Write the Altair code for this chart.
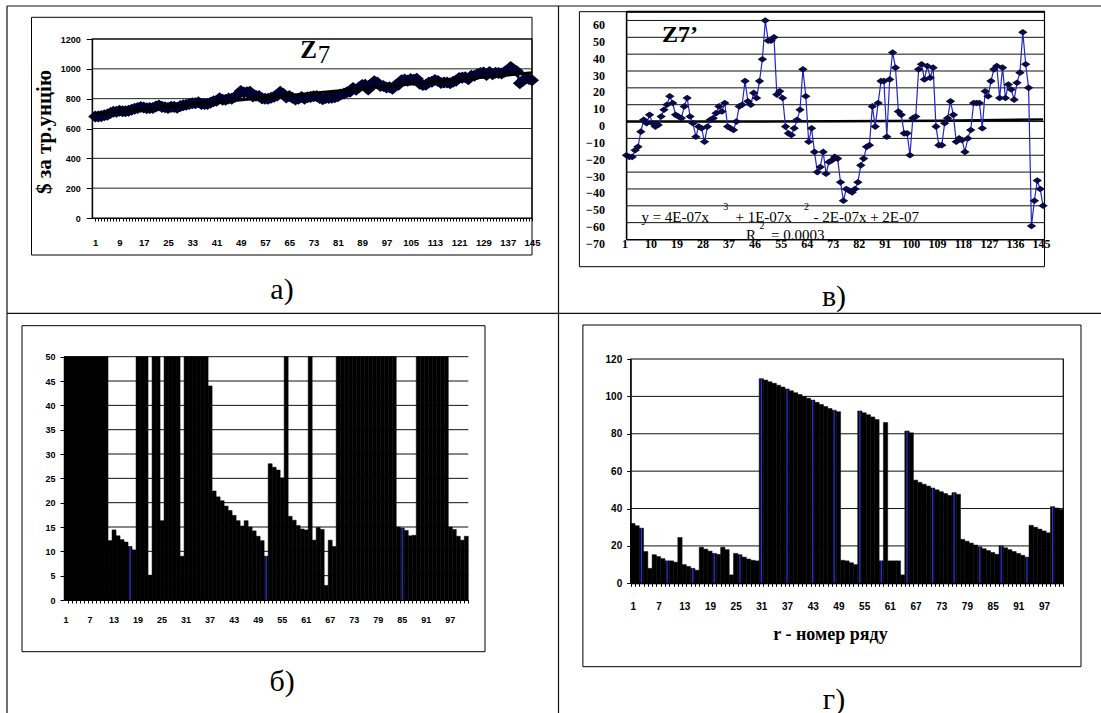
import altair as alt
import pandas as pd

W, H = 1101, 713

# ---------------- data ----------------
# panel a) Z7, $ per troy ounce, points 1..145
z7 = [680, 681, 683, 689, 693, 704, 712, 712, 719, 716,
      716, 719, 726, 732, 737, 744, 741, 736, 737, 738,
      747, 754, 745, 743, 737, 745, 745, 739, 750, 756,
      759, 764, 770, 769, 776, 764, 764, 765, 772, 783,
      786, 802, 792, 792, 801, 800, 811, 826, 851, 841,
      843, 847, 815, 819, 817, 802, 799, 800, 806, 813,
      821, 847, 833, 808, 818, 806, 795, 800, 811, 800,
      809, 812, 816, 817, 805, 796, 804, 805, 806, 810,
      816, 828, 834, 843, 846, 871, 860, 876, 891, 893,
      862, 898, 916, 909, 885, 885, 875, 877, 866, 890,
      893, 923, 928, 921, 931, 926, 933, 900, 891, 893,
      908, 913, 925, 919, 905, 909, 909, 904, 914, 921,
      939, 941, 943, 930, 954, 953, 963, 972, 976, 959,
      979, 963, 973, 972, 968, 980, 987, 1013, 996, 984,
      904, 921, 935, 932, 924]
z7_trend_x = [1, 145]
z7_trend_y = [700, 974]
a_yticks = [0, 200, 400, 600, 800, 1000, 1200]

# panel в) Z7'
z7d = [-20, -21, -21, -17, -15, -6, 1, -1, 4, -1,
       -3, -2, 3, 7, 10, 15, 11, 4, 3, 2,
       9, 14, 3, -1, -9, -3, -4, -12, -3, 1,
       2, 5, 9, 6, 11, -3, -4, -5, 0, 9,
       10, 24, 12, 10, 17, 14, 24, 37, 60, 48,
       48, 50, 16, 18, 14, -3, -7, -8, -4, 1,
       7, 31, 15, -12, -4, -18, -30, -27, -18, -31,
       -24, -23, -21, -22, -36, -47, -40, -41, -42, -40,
       -36, -26, -22, -15, -14, 9, -3, 11, 24, 24,
       -9, 25, 41, 32, 6, 4, -7, -7, -20, 2,
       3, 31, 34, 25, 33, 26, 32, -3, -14, -14,
       -1, 2, 12, 4, -12, -10, -11, -18, -10, -5,
       11, 11, 11, -4, 18, 15, 24, 31, 33, 14,
       32, 14, 22, 19, 13, 23, 29, 53, 34, 20,
       -62, -47, -35, -40, -50]
z7d_trend_x = [1, 37, 73, 109, 145]
z7d_trend_y = [0.0, 0.02, 0.16, 0.52, 1.22]
v_yticks = [-70, -60, -50, -40, -30, -20, -10, 0, 10, 20, 30, 40, 50, 60]
v_xticks = [1, 10, 19, 28, 37, 46, 55, 64, 73, 82, 91, 100, 109, 118, 127, 136, 145]

# panel б) bars (values above 50 run off the top of the axis)
b_vals = [60, 60, 60, 60, 60, 60, 60, 60, 60, 60, 60,
          12.2, 14.4, 13.2, 12.4, 11.9, 11.0, 10.3,
          60, 60, 60, 5.1, 60, 60, 16.3, 60, 60, 60, 60, 9.0,
          60, 60, 60, 60, 60, 60, 44,
          22.4, 21.2, 20.4, 19.3, 18.4, 17.4, 16.3, 15.2, 16.3, 15.0, 14.2, 13.1, 12.2,
          9.0, 28.0, 27.3, 26.7, 25.1, 60,
          17.2, 16.4, 15.3, 14.6, 14.4, 60,
          12.3, 14.9, 14.5, 3.0, 12.3, 11.0,
          60, 60, 60, 60, 60, 60, 60, 60, 60, 60, 60, 60, 60, 60, 60,
          15.0, 14.8, 14.3, 13.2, 13.3,
          60, 60, 60, 60, 60, 60, 60, 60,
          15.0, 14.5, 13.1, 12.3, 13.1]
b_blue = [17, 51, 85]
b_yticks = [0, 5, 10, 15, 20, 25, 30, 35, 40, 45, 50]
b_xlabels = [1, 7, 13, 19, 25, 31, 37, 43, 49, 55, 61, 67, 73, 79, 85, 91, 97]

# panel г) bars
g_vals = [32, 30.8, 29.5, 17, 8, 15.3, 14.3, 13.2, 12, 12,
          11.3, 24.5, 10, 9, 8, 7, 19.3, 18.3, 17.2, 16,
          15.5, 19.3, 18, 4.5, 16, 15.3, 14, 13, 12.3, 12,
          109.5, 108.7, 107.8, 107, 106, 105, 104, 103, 102, 101,
          100, 99, 98, 96.8, 95.7, 94.6, 93.5, 92.6, 91.8,
          12.3, 12, 11, 10,
          92.2, 91.2, 90.2, 89, 87.6,
          12, 86, 12, 12, 12, 4.5,
          81.5, 80.5,
          55.2, 54, 53, 52, 51, 50, 49, 48, 47, 48.5, 47.6,
          23.5, 22.5, 21.5, 20.5, 19.5, 18.5, 17.5, 16.5, 15.5,
          20, 19, 18, 17, 16, 15, 14,
          31, 30, 29, 28, 27, 41, 40.3, 39.5]
g_blue = [3, 9, 15, 20, 26, 31, 37, 43, 48, 54, 59, 65, 71, 76, 82, 87, 93, 99]
g_yticks = [0, 20, 40, 60, 80, 100, 120]

# ---------------- helpers ----------------
one = pd.DataFrame({"k": [0]})
SERIF = "Liberation Serif"
SANS = "Liberation Sans"


def hline(y, x1, x2, color="#111", w=1.2):
    return alt.Chart(one).mark_rule(color=color, strokeWidth=w).encode(
        y=alt.value(y), x=alt.value(x1), x2=alt.value(x2))


def vline(x, y1, y2, color="#111", w=1.2):
    return alt.Chart(one).mark_rule(color=color, strokeWidth=w).encode(
        x=alt.value(x), y=alt.value(y1), y2=alt.value(y2))


def box(x1, y1, x2, y2, stroke="black", w=1.0):
    return alt.Chart(one).mark_rect(fill="transparent", stroke=stroke, strokeWidth=w).encode(
        x=alt.value(x1), x2=alt.value(x2), y=alt.value(y1), y2=alt.value(y2))


def txt(s, x, y, size, font=SERIF, weight="normal", align="center", angle=0, color="black"):
    return alt.Chart(one).mark_text(text=s, fontSize=size, font=font, fontWeight=weight,
                                    align=align, baseline="middle", angle=angle,
                                    color=color).encode(x=alt.value(x), y=alt.value(y))


def lin(domain, rng):
    return alt.Scale(domain=domain, range=rng, nice=False, zero=False)


COMMON_AX = dict(grid=False, title=None, labelColor="black", domainColor="black",
                 tickColor="black", labelOverlap=False, labelFlush=False, zindex=2)

# ---------------- panel a ----------------
AX0, AX1, AY0, AY1 = 92.2, 532.0, 39.0, 218.0
xa = lin([0, 145], [AX0, AX1])
ya = lin([0, 1200], [AY1, AY0])
df_a = pd.DataFrame({"i": list(range(1, len(z7) + 1)), "v": z7})
df_at = pd.DataFrame({"i": z7_trend_x, "v": z7_trend_y})
df_ag = pd.DataFrame({"v": a_yticks[1:]})

axis_ax = alt.Axis(orient="bottom", offset=AY1 - H, values=list(range(1, 146)),
                   labelExpr="(datum.value - 1) % 8 == 0 ? datum.label : ''",
                   tickSize=3, labelPadding=16, labelFont=SANS,
                   labelFontWeight="bold", labelFontSize=9.5, labelBound=False, **COMMON_AX)
axis_ay = alt.Axis(orient="left", offset=-AX0, values=a_yticks, format="d",
                   tickSize=6, labelPadding=6, labelFont=SANS, labelFontWeight="bold",
                   labelFontSize=9, **COMMON_AX)

diamond_a = "M-1,0L0,-0.85L1,0L0,0.85Z"
diamond_v = "M-1,0L0,-0.7L1,0L0,0.7Z"

pa_grid = alt.Chart(df_ag).mark_rule(color="#222", strokeWidth=1).encode(
    y=alt.Y("v:Q", scale=ya, axis=None), x=alt.value(AX0), x2=alt.value(AX1))
pa_line = alt.Chart(df_a).mark_line(color="#000033", strokeWidth=2.5).encode(
    x=alt.X("i:Q", scale=xa, axis=axis_ax), y=alt.Y("v:Q", scale=ya, axis=axis_ay))
pa_pts = alt.Chart(df_a).mark_point(shape=diamond_a, filled=True, size=200, opacity=1,
                                    color="#00002e").encode(
    x=alt.X("i:Q", scale=xa, axis=None), y=alt.Y("v:Q", scale=ya, axis=None))
pa_trend = alt.Chart(df_at).mark_line(color="black", strokeWidth=3).encode(
    x=alt.X("i:Q", scale=xa, axis=None), y=alt.Y("v:Q", scale=ya, axis=None))
panel_a = [pa_grid, pa_line, pa_pts, pa_trend]

# ---------------- panel в ----------------
VX0, VX1, VY0, VY1 = 626.4, 1044.5, 11.7, 239.5
xv = lin([1, 145.5], [VX0, VX1])
yv = lin([-70, 65.2], [VY1, VY0])
df_v = pd.DataFrame({"i": list(range(1, len(z7d) + 1)), "v": z7d})
df_vt = pd.DataFrame({"i": z7d_trend_x, "v": z7d_trend_y})
df_vg = pd.DataFrame({"v": v_yticks[1:]})

axis_vx = alt.Axis(orient="bottom", offset=VY1 - H, values=v_xticks,
                   tickSize=0, labelPadding=-1, labelOffset=-2, labelFont=SERIF,
                   labelFontWeight="bold", labelFontSize=12, labelBound=False, **COMMON_AX)
axis_vy = alt.Axis(orient="left", offset=-VX0, values=v_yticks,
                   tickSize=0, labelPadding=22, labelOffset=4, labelFont=SERIF,
                   labelFontWeight="bold", labelFontSize=12, **COMMON_AX)

pv_grid = alt.Chart(df_vg).mark_rule(color="#111", strokeWidth=1).encode(
    y=alt.Y("v:Q", scale=yv, axis=None), x=alt.value(VX0), x2=alt.value(VX1))
pv_trend = alt.Chart(df_vt).mark_line(color="black", strokeWidth=2.6).encode(
    x=alt.X("i:Q", scale=xv, axis=None), y=alt.Y("v:Q", scale=yv, axis=None))
pv_line = alt.Chart(df_v).mark_line(color="#2424c8", strokeWidth=1.2).encode(
    x=alt.X("i:Q", scale=xv, axis=axis_vx), y=alt.Y("v:Q", scale=yv, axis=axis_vy))
pv_pts = alt.Chart(df_v).mark_point(shape=diamond_v, filled=True, size=90, opacity=1,
                                    color="#0a0a45").encode(
    x=alt.X("i:Q", scale=xv, axis=None), y=alt.Y("v:Q", scale=yv, axis=None))
panel_v = [pv_grid, pv_trend, pv_line, pv_pts]

# ---------------- panel б ----------------
BX0, BX1, BY0, BY1 = 64.0, 468.3, 356.7, 600.0
cats_b = list(range(1, len(b_vals) + 1))
xb = alt.Scale(type="band", domain=cats_b, range=[BX0, BX1], paddingInner=0, paddingOuter=0)
yb = alt.Scale(domain=[0, 50], range=[BY1, BY0], nice=False, zero=True, clamp=True)
df_b = pd.DataFrame({"c": cats_b, "v": b_vals})
df_bb = pd.DataFrame({"c": b_blue, "v": [b_vals[c - 1] for c in b_blue]})
df_bg = pd.DataFrame({"v": b_yticks[1:]})
df_bl = pd.DataFrame({"c": b_xlabels, "t": [str(c) for c in b_xlabels]})

axis_bx_ticks = alt.Axis(orient="bottom", offset=BY1 - H, values=cats_b, labels=False,
                         tickSize=3, tickBand="extent", **COMMON_AX)
axis_by = alt.Axis(orient="left", offset=-BX0, values=b_yticks,
                   tickSize=4, labelPadding=5, labelFont=SANS, labelFontWeight="bold",
                   labelFontSize=9, **COMMON_AX)

pb_grid = alt.Chart(df_bg).mark_rule(color="#111", strokeWidth=1).encode(
    y=alt.Y("v:Q", scale=yb, axis=None), x=alt.value(BX0), x2=alt.value(BX1))
pb_bars = alt.Chart(df_b).mark_bar(color="black", stroke="black", strokeWidth=0.5).encode(
    x=alt.X("c:O", scale=xb, axis=axis_bx_ticks), y=alt.Y("v:Q", scale=yb, axis=axis_by))
pb_blue = alt.Chart(df_bb).mark_rule(color="#3333dd", strokeWidth=1.2).encode(
    x=alt.X("c:O", scale=xb, axis=None), y=alt.Y("v:Q", scale=yb, axis=None),
    y2=alt.datum(0))
pb_xlab = alt.Chart(df_bl).mark_text(font=SANS, fontWeight="bold", fontSize=9,
                                     align="center", baseline="middle", color="black").encode(
    x=alt.X("c:O", scale=xb, axis=None), y=alt.value(620), text="t:N")
panel_b = [pb_grid, pb_bars, pb_blue, pb_xlab]

# ---------------- panel г ----------------
GX0, GX1, GY0, GY1 = 630.7, 1063.3, 359.0, 583.3
cats_g = list(range(1, len(g_vals) + 1))
xg = alt.Scale(type="band", domain=cats_g, range=[GX0, GX1], paddingInner=0, paddingOuter=0)
yg = alt.Scale(domain=[0, 120], range=[GY1, GY0], nice=False, zero=True)
df_g = pd.DataFrame({"c": cats_g, "v": g_vals})
df_gb = pd.DataFrame({"c": g_blue, "v": [g_vals[c - 1] for c in g_blue]})
df_gg = pd.DataFrame({"v": g_yticks[1:-1]})

axis_gx = alt.Axis(orient="bottom", offset=GY1 - H, values=cats_g,
                   labelExpr="(datum.value - 1) % 6 == 0 ? datum.label : ''",
                   tickSize=3, tickBand="extent", labelPadding=15,
                   labelAngle=0, labelFont=SANS, labelFontWeight="bold", labelFontSize=10,
                   labelBound=False, **COMMON_AX)
axis_gy = alt.Axis(orient="left", offset=-GX0, values=g_yticks,
                   tickSize=4, labelPadding=5, labelFont=SANS, labelFontWeight="bold",
                   labelFontSize=10, **COMMON_AX)

pg_grid = alt.Chart(df_gg).mark_rule(color="#111", strokeWidth=1).encode(
    y=alt.Y("v:Q", scale=yg, axis=None), x=alt.value(GX0), x2=alt.value(GX1))
pg_bars = alt.Chart(df_g).mark_bar(color="black", stroke="black", strokeWidth=0.5).encode(
    x=alt.X("c:O", scale=xg, axis=axis_gx), y=alt.Y("v:Q", scale=yg, axis=axis_gy))
pg_blue = alt.Chart(df_gb).mark_rule(color="#3333dd", strokeWidth=1.2).encode(
    x=alt.X("c:O", scale=xg, axis=None), y=alt.Y("v:Q", scale=yg, axis=None),
    y2=alt.datum(0))
panel_g = [pg_grid, pg_bars, pg_blue]

# ---------------- frames, table, texts ----------------
back = [
    box(31.5, 17.3, 532, 255),          # chart area a
    box(579.4, 11.7, 1044.5, 266.7),    # chart area в
    box(22, 325.7, 485, 651.7),         # chart area б
    box(582.9, 325, 1081, 666.7),       # chart area г
    hline(6, 7, W), vline(7, 6, H), vline(558.5, 6, H), hline(313.3, 7, W),
]

front = [
    box(AX0, AY0, AX1, AY1, w=1.2),
    box(VX0, VY0, VX1, VY1, w=1.2),
    hline(VY0, VX0, VX1, color="black", w=2),
    box(GX0, GY0, GX1, GY1, w=1.2),
    # panel a texts
    txt("Z", 308.5, 50, 25, weight="bold"),
    txt("7", 324, 55, 25),
    txt("$ за тр.унцію", 45, 132, 21, weight="bold", angle=270),
    txt("а)", 282, 290, 30),
    # panel в texts
    txt("Z7’", 680, 35, 24, weight="bold"),
    txt("y = 4E-07x", 641.4, 216.7, 15, align="left"),
    txt("3", 725.7, 207, 10),
    txt("+ 1E-07x", 735.5, 216.7, 15, align="left"),
    txt("2", 806.6, 207, 10),
    txt("- 2E-07x + 2E-07", 813.5, 216.7, 15, align="left"),
    txt("R", 751, 235, 15),
    txt("2", 762, 226, 10),
    txt("= 0.0003", 771, 235, 15, align="left"),
    txt("в)", 834, 297, 30),
    # panel б / г texts
    txt("б)", 282, 682, 30),
    txt("r - номер ряду", 830.5, 635, 18, weight="bold"),
    txt("г)", 834, 700, 30),
]

chart = alt.layer(*back, *panel_a, *panel_v, *panel_b, *panel_g, *front).resolve_scale(
    x="independent", y="independent").resolve_axis(
    x="independent", y="independent").properties(
    width=W, height=H, autosize=alt.AutoSizeParams(type="none"), padding=0,
    background="white").configure_view(stroke=None)

chart.save("out.html", embed_options={"renderer": "svg", "actions": False})
